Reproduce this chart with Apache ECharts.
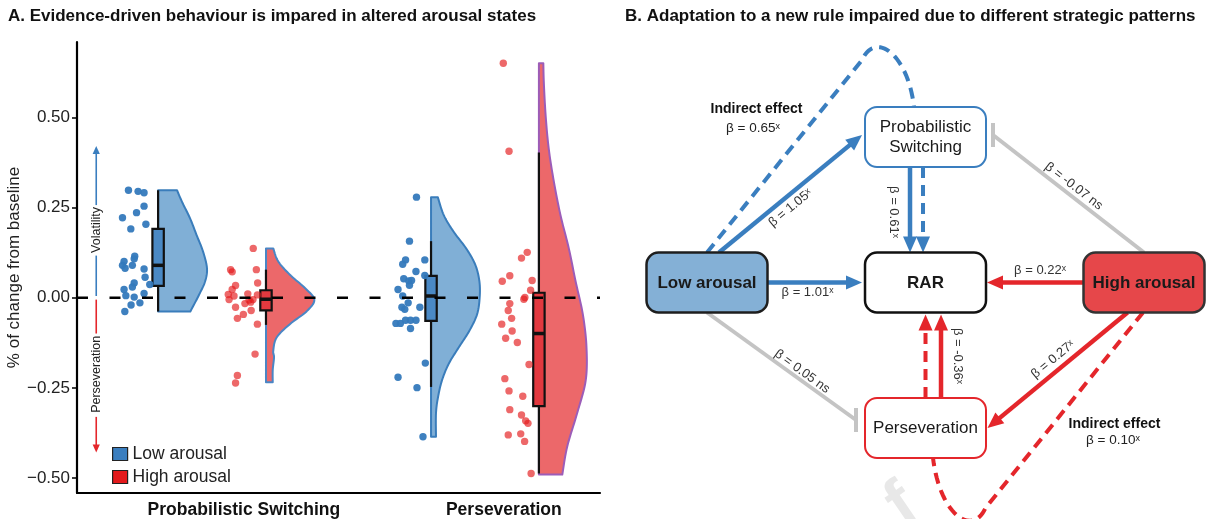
<!DOCTYPE html>
<html>
<head>
<meta charset="utf-8">
<script src="https://cdn.jsdelivr.net/npm/echarts@6.0.0/dist/echarts.min.js"></script>
<style>
html,body{margin:0;padding:0;background:#ffffff;}
#chart{width:1207px;height:519px;}
</style>
</head>
<body>
<div id="chart"></div>
<script>
// ================= DATA =================
const categories = ['Probabilistic Switching', 'Perseveration'];
const arousalGroups = ['Low arousal', 'High arousal'];
const yTickValues = [-0.5, -0.25, 0, 0.25, 0.5];

// jittered observations (value, horizontal jitter in category units)
const lowPSValues = [0.298,0.295,0.291,0.254,0.236,0.222,0.204,0.191,0.115,0.108,0.101,0.090,0.090,0.082,0.080,0.057,0.041,0.037,0.030,0.023,0.012,0.006,0.002,-0.014,-0.020,-0.038];
const lowPSJitter = [-0.114,-0.077,-0.054,-0.054,-0.083,-0.137,-0.047,-0.105,-0.090,-0.092,-0.131,-0.137,-0.099,-0.127,-0.054,-0.050,-0.092,-0.032,-0.099,-0.131,-0.054,-0.124,-0.092,-0.070,-0.104,-0.128];
const highPSValues = [0.137,0.078,0.072,0.078,0.041,0.034,0.023,0.011,0.009,0.005,0.008,-0.005,-0.006,-0.005,-0.012,-0.016,-0.026,-0.035,-0.046,-0.057,-0.073,-0.156,-0.215,-0.236];
const highPSJitter = [-0.049,-0.136,-0.130,-0.037,-0.032,-0.117,-0.130,-0.070,-0.145,-0.123,-0.033,-0.142,-0.065,-0.050,-0.059,-0.081,-0.117,-0.057,-0.087,-0.110,-0.033,-0.042,-0.110,-0.117];
const lowPersValues = [0.279,0.157,0.105,0.093,0.105,0.073,0.062,0.053,0.047,0.048,0.035,0.023,0.005,-0.014,-0.026,-0.032,-0.026,-0.071,-0.071,-0.062,-0.062,-0.062,-0.085,-0.181,-0.220,-0.249,-0.385];
const lowPersJitter = [-0.056,-0.083,-0.098,-0.109,-0.024,-0.058,-0.024,-0.105,-0.086,-0.075,-0.083,-0.127,-0.109,-0.088,-0.112,-0.101,-0.043,-0.135,-0.118,-0.098,-0.079,-0.058,-0.079,-0.022,-0.127,-0.054,-0.031];
const highPersValues = [0.650,0.406,0.126,0.110,0.061,0.046,0.048,0.021,-0.004,0.001,-0.016,-0.035,-0.057,-0.073,-0.092,-0.112,-0.124,-0.185,-0.224,-0.258,-0.273,-0.310,-0.325,-0.341,-0.348,-0.380,-0.377,-0.398,-0.487];
const highPersJitter = [-0.137,-0.115,-0.045,-0.067,-0.112,-0.141,-0.026,-0.032,-0.058,-0.054,-0.112,-0.118,-0.105,-0.143,-0.103,-0.128,-0.083,-0.038,-0.131,-0.115,-0.062,-0.112,-0.067,-0.051,-0.042,-0.118,-0.070,-0.055,-0.030];

// box statistics [lower whisker, Q1, median, Q3, upper whisker]
const boxLowPS = [-0.038, 0.033, 0.090, 0.191, 0.298];
const boxHighPS = [-0.075, -0.035, -0.004, 0.021, 0.078];
const boxLowPers = [-0.247, -0.064, 0.005, 0.061, 0.157];
const boxHighPers = [-0.487, -0.300, -0.099, 0.014, 0.403];

// half-violin density profiles (value, half width in category units)
const violinLowPSValues = [0.298,0.266,0.220,0.174,0.128,0.082,0.046,0.009,-0.038];
const violinLowPSWidth = [0.073,0.092,0.123,0.148,0.173,0.188,0.181,0.158,0.124];
const violinHighPSValues = [0.137,0.101,0.064,0.027,-0.005,-0.037,-0.073,-0.110,-0.147,-0.165,-0.200,-0.234];
const violinHighPSWidth = [0.028,0.047,0.092,0.150,0.186,0.157,0.092,0.041,0.028,0.031,0.026,0.026];
const violinLowPersValues = [0.279,0.229,0.183,0.137,0.092,0.046,0.000,-0.046,-0.092,-0.137,-0.183,-0.229,-0.275,-0.320,-0.385];
const violinLowPersWidth = [0.026,0.049,0.087,0.135,0.170,0.186,0.187,0.177,0.147,0.107,0.068,0.042,0.027,0.019,0.019];
const violinHighPersValues = [0.650,0.595,0.504,0.412,0.320,0.229,0.137,0.046,-0.046,-0.137,-0.229,-0.320,-0.412,-0.490];
const violinHighPersWidth = [0.017,0.019,0.026,0.038,0.058,0.083,0.115,0.141,0.169,0.183,0.180,0.147,0.109,0.090];

// path model (panel B)
const nodeNames = ['Probabilistic Switching', 'Low arousal', 'RAR', 'High arousal', 'Perseveration'];
const nodeLabels = ['Probabilistic\nSwitching', 'Low arousal', 'RAR', 'High arousal', 'Perseveration'];
const pathFrom = ['Low arousal','Low arousal','Probabilistic Switching','High arousal','Low arousal','High arousal','Perseveration','High arousal'];
const pathTo = ['Probabilistic Switching','RAR','RAR','Probabilistic Switching','Perseveration','RAR','RAR','Perseveration'];
const pathBeta = ['1.05','1.01','0.61','-0.07','0.05','0.22','-0.36','0.27'];
const pathSig = ['*','*','*','ns','ns','*','*','*'];
const indirectFrom = ['Low arousal', 'High arousal'];
const indirectVia = ['Probabilistic Switching', 'Perseveration'];
const indirectBeta = ['0.65', '0.10'];

// ================= LAYOUT / STYLE =================
const FONT = "'Liberation Sans', Arial, Helvetica, sans-serif";
const BLUE = '#3A7EBF', RED = '#E4262B', GREY = '#C4C4C4';
const groupPos = [0.67, 1.085, 1.72, 2.135];           // x slot of each raincloud
const xMinA = 0.358, xMaxA = 2.37;
const groupPts = [[lowPSValues, lowPSJitter],[highPSValues, highPSJitter],[lowPersValues, lowPersJitter],[highPersValues, highPersJitter]];
const groupBox = [boxLowPS, boxHighPS, boxLowPers, boxHighPers];
const groupViolin = [[violinLowPSValues, violinLowPSWidth],[violinHighPSValues, violinHighPSWidth],[violinLowPersValues, violinLowPersWidth],[violinHighPersValues, violinHighPersWidth]];
const violinFill = ['#80AFD6', '#EC686A', '#80AFD6', '#EC686A'];
const violinStroke = ['#3A7DBB', '#4A86C5', '#3A7DBB', '#9C5DB8'];
const boxFill = ['#4A89C5', '#E2393F', '#4A89C5', '#E2393F'];

const annot = {x: 0.432,
  up: {tip: 0.421, seg: [[0.005, 0.117], [0.257, 0.405]], text: 0.188, label: 'Volatility', color: BLUE},
  down: {tip: -0.429, seg: [[-0.005, -0.099], [-0.330, -0.413]], text: -0.212, label: 'Perseveration', color: RED}};

const nodeGrid = {'Probabilistic Switching':[1,0], 'Low arousal':[0,1], 'RAR':[1,1], 'High arousal':[2,1], 'Perseveration':[1,2]};
const nodeStyle = {
  'Probabilistic Switching': {fill:'#ffffff', stroke:BLUE, lw:2, bold:false},
  'Low arousal': {fill:'#84B0D6', stroke:'#1e1e1e', lw:2.5, bold:true},
  'RAR': {fill:'#ffffff', stroke:'#111111', lw:2.5, bold:true},
  'High arousal': {fill:'#E6474A', stroke:'#333333', lw:2.5, bold:true},
  'Perseveration': {fill:'#ffffff', stroke:RED, lw:2, bold:false}
};
const nodeColor = {'Low arousal':BLUE, 'Probabilistic Switching':BLUE, 'High arousal':RED, 'Perseveration':RED};
// anchor offsets (px) from node centres
const pathLayout = [
  {s:[12,-30], e:[-63.5,-2], label:[83.5,-74.5], rot:39.5},
  {s:[61,0], e:[-63.5,0], label:[100.5,10], rot:0},
  {s:[-15.5,30], e:[-15.5,-30], label:[-31.5,75], rot:-90},
  {s:[0,-30], e:[67.5,-2], label:[-70.3,-96.3], rot:-37.6},
  {s:[0,30], e:[-69.5,-8], label:[95,89], rot:-36},
  {s:[-61,0], e:[61.5,0], label:[-104,-12], rot:0},
  {s:[15.5,-30], e:[15.5,32], label:[32.5,-72], rot:-90},
  {s:[-16.5,30], e:[62,0], label:[-91,77], rot:39.4}
];
const indirectLayout = [
  {s:[0,-30], a:[-63.5,-77], c1:[-49.5,-107], c2:[-17.5,-82], e:[-11.5,-30], down:[-2.5,30], downEnd:[-2.5,-30], title:[-169,-28], beta:[-172.5,-9]},
  {s:[-1,30], a:[60,80], c1:[46,110], c2:[14,85], e:[7.5,30], down:[0,-30], downEnd:[0,32], title:[189,-4], beta:[187.5,12]}
];

// ================= HELPERS =================
function spline(pts, steps) {
  const out = [pts[0]];
  for (let i = 0; i < pts.length - 1; i++) {
    const p0 = pts[Math.max(i-1,0)], p1 = pts[i], p2 = pts[i+1], p3 = pts[Math.min(i+2, pts.length-1)];
    for (let s = 1; s <= steps; s++) {
      const t = s/steps, t2 = t*t, t3 = t2*t;
      const f = (a,b,c,d) => 0.5*((2*b) + (-a+c)*t + (2*a-5*b+4*c-d)*t2 + (-a+3*b-3*c+d)*t3);
      out.push([f(p0[0],p1[0],p2[0],p3[0]), f(p0[1],p1[1],p2[1],p3[1])]);
    }
  }
  return out;
}
function arrowHead(tip, dir, L, W, color) {
  const bx = tip[0]-dir[0]*L, by = tip[1]-dir[1]*L;
  return {type:'polygon', shape:{points:[[tip[0],tip[1]],[bx-dir[1]*W, by+dir[0]*W],[bx+dir[1]*W, by-dir[0]*W]]}, style:{fill:color}};
}
function betaText(b, sig) { return sig === 'ns' ? 'β = ' + b + ' ns' : 'β = ' + b + 'ˣ'; }
function fmtTick(v) { const s = Math.abs(v).toFixed(2); return v < 0 ? '\u2212' + s : s; }
function bez(p0, p1, p2, p3, t) {
  const u = 1-t;
  return [u*u*u*p0[0]+3*u*u*t*p1[0]+3*u*t*t*p2[0]+t*t*t*p3[0], u*u*u*p0[1]+3*u*u*t*p1[1]+3*u*t*t*p2[1]+t*t*t*p3[1]];
}
const off = (c, o) => [c[0]+o[0], c[1]+o[1]];

// ================= SERIES =================
const series = [];

// half violins
series.push({
  type:'custom', name:'violins', xAxisIndex:0, yAxisIndex:0, z:2, silent:true,
  data: groupPos.map((g,i)=>[i,0]),
  renderItem(params, api) {
    const i = params.dataIndex, gx = groupPos[i];
    const [vals, wid] = groupViolin[i];
    const edge = vals.map((v,k)=>api.coord([gx + wid[k], v]));
    const pts = [api.coord([gx, vals[0]])].concat(spline(edge, 10)).concat([api.coord([gx, vals[vals.length-1]])]);
    return {type:'polygon', shape:{points:pts}, style:{fill:violinFill[i], stroke:violinStroke[i], lineWidth:2, lineJoin:'round'}};
  }
});

// boxplots
series.push({
  type:'custom', name:'boxes', xAxisIndex:0, yAxisIndex:0, z:3, silent:true,
  data: groupPos.map((g,i)=>[i,0]),
  renderItem(params, api) {
    const i = params.dataIndex, gx = groupPos[i];
    const [mn,q1,md,q3,mx] = groupBox[i];
    const x = api.coord([gx, 0])[0], hw = 5.7;
    const yMn = api.coord([gx,mn])[1], yQ1 = api.coord([gx,q1])[1], yMd = api.coord([gx,md])[1], yQ3 = api.coord([gx,q3])[1], yMx = api.coord([gx,mx])[1];
    return {type:'group', children:[
      {type:'line', shape:{x1:x,y1:yMx,x2:x,y2:yMn}, style:{stroke:'#111',lineWidth:2.2}},
      {type:'rect', shape:{x:x-hw, y:yQ3, width:2*hw, height:yQ1-yQ3}, style:{fill:boxFill[i], stroke:'#111', lineWidth:2.2}},
      {type:'line', shape:{x1:x-hw,y1:yMd,x2:x+hw,y2:yMd}, style:{stroke:'#111',lineWidth:3.5}}
    ]};
  }
});

// jittered points
[[0,2,'Low arousal','#3479BC',0.95],[1,3,'High arousal','#E31A1C',0.66]].forEach(([a,b,name,color,op])=>{
  const data = [];
  [a,b].forEach(g=>{ const [vals,jit] = groupPts[g]; vals.forEach((v,k)=>data.push([groupPos[g]+jit[k], v])); });
  series.push({type:'scatter', name, xAxisIndex:0, yAxisIndex:0, z:4, symbol:'circle', symbolSize:7.4, data,
    itemStyle:{color, opacity:op}, silent:true});
});

// zero reference line
series.push({
  type:'custom', name:'zero', xAxisIndex:0, yAxisIndex:0, z:6, silent:true, data:[[1,0]],
  renderItem(params, api) {
    const p1 = api.coord([xMinA,0]), p2 = api.coord([xMaxA,0]);
    return {type:'line', shape:{x1:p1[0],y1:p1[1],x2:p2[0],y2:p2[1]}, style:{stroke:'#000', lineWidth:2.4, lineDash:[11,21.5], lineDashOffset:0}};
  }
});

// direction annotations (Volatility / Perseveration)
series.push({
  type:'custom', name:'annot', xAxisIndex:0, yAxisIndex:0, z:6, silent:true, data:[[1,0]],
  renderItem(params, api) {
    const ch = [];
    [annot.up, annot.down].forEach(a=>{
      a.seg.forEach(([v1,v2])=>{
        const p1 = api.coord([annot.x,v1]), p2 = api.coord([annot.x,v2]);
        ch.push({type:'line', shape:{x1:p1[0],y1:p1[1],x2:p2[0],y2:p2[1]}, style:{stroke:a.color,lineWidth:1.6}});
      });
      const tip = api.coord([annot.x, a.tip]);
      ch.push(arrowHead(tip, [0, a.tip>0?-1:1], 8, 3.6, a.color));
      const tp = api.coord([annot.x, a.text]);
      ch.push({type:'text', x:tp[0], y:tp[1], rotation:Math.PI/2, style:{text:a.label, fontSize:12.5, fontFamily:FONT, fill:'#222', align:'center', verticalAlign:'middle'}});
    });
    return {type:'group', children:ch};
  }
});

// ----- panel B: direct paths -----
series.push({
  type:'custom', name:'paths', xAxisIndex:1, yAxisIndex:1, z:2, silent:true,
  data: pathFrom.map((f,i)=>[i,0]),
  renderItem(params, api) {
    const i = params.dataIndex, lay = pathLayout[i];
    const from = api.coord(nodeGrid[pathFrom[i]]), to = api.coord(nodeGrid[pathTo[i]]);
    const s = off(from, lay.s), e = off(to, lay.e);
    const ns = pathSig[i] === 'ns';
    const color = ns ? GREY : nodeColor[pathFrom[i]];
    const len = Math.hypot(e[0]-s[0], e[1]-s[1]);
    const dir = [(e[0]-s[0])/len, (e[1]-s[1])/len];
    const ch = [];
    if (ns) {
      ch.push({type:'line', shape:{x1:s[0],y1:s[1],x2:e[0],y2:e[1]}, style:{stroke:color,lineWidth:4}});
      ch.push({type:'line', shape:{x1:e[0],y1:e[1]-12,x2:e[0],y2:e[1]+12}, style:{stroke:color,lineWidth:4}});
    } else {
      const stop = [e[0]-dir[0]*12, e[1]-dir[1]*12];
      ch.push({type:'line', shape:{x1:s[0],y1:s[1],x2:stop[0],y2:stop[1]}, style:{stroke:color,lineWidth:4.5}});
      ch.push(arrowHead(e, dir, 16, 7, color));
    }
    const lp = off(from, lay.label);
    ch.push({type:'text', x:lp[0], y:lp[1], rotation:lay.rot*Math.PI/180,
      style:{text:betaText(pathBeta[i], pathSig[i]), fontSize:13, fontFamily:FONT, fill:'#333', align:'center', verticalAlign:'middle'}});
    return {type:'group', children:ch};
  }
});

// ----- panel B: indirect effects -----
series.push({
  type:'custom', name:'indirect', xAxisIndex:1, yAxisIndex:1, z:2, silent:true,
  data: indirectFrom.map((f,i)=>[i,0]),
  renderItem(params, api) {
    const i = params.dataIndex, lay = indirectLayout[i];
    const from = api.coord(nodeGrid[indirectFrom[i]]), via = api.coord(nodeGrid[indirectVia[i]]), out = api.coord(nodeGrid['RAR']);
    const color = nodeColor[indirectFrom[i]];
    const s = off(from, lay.s), A = off(via, lay.a), C1 = off(via, lay.c1), C2 = off(via, lay.c2), E = off(via, lay.e);
    const pts = [s, A];
    for (let k = 1; k <= 30; k++) pts.push(bez(A, C1, C2, E, k/30));
    const d1 = off(via, lay.down), d2 = off(out, lay.downEnd);
    const dir = [0, d2[1] > d1[1] ? 1 : -1];
    const stop = [d2[0], d2[1]-dir[1]*12];
    const tp = off(via, lay.title), bp = off(via, lay.beta);
    return {type:'group', children:[
      {type:'polyline', shape:{points:pts}, style:{stroke:color, lineWidth:4, lineDash:[11,7], fill:'none'}},
      {type:'line', shape:{x1:d1[0],y1:d1[1],x2:stop[0],y2:stop[1]}, style:{stroke:color,lineWidth:4,lineDash:[11,7]}},
      arrowHead(d2, dir, 16, 7, color),
      {type:'text', x:tp[0], y:tp[1], style:{text:'Indirect effect', fontSize:14, fontWeight:'bold', fontFamily:FONT, fill:'#111', align:'center', verticalAlign:'middle'}},
      {type:'text', x:bp[0], y:bp[1], style:{text:betaText(indirectBeta[i], '*'), fontSize:13.5, fontFamily:FONT, fill:'#222', align:'center', verticalAlign:'middle'}}
    ]};
  }
});

// ----- panel B: nodes -----
series.push({
  type:'custom', name:'nodes', xAxisIndex:1, yAxisIndex:1, z:3, silent:true,
  data: nodeNames.map((n,i)=>[i,0]),
  renderItem(params, api) {
    const i = params.dataIndex, name = nodeNames[i];
    const c = api.coord(nodeGrid[name]), st = nodeStyle[name];
    return {type:'group', children:[
      {type:'rect', shape:{x:c[0]-60.5, y:c[1]-30, width:121, height:60, r:12}, style:{fill:st.fill, stroke:st.stroke, lineWidth:st.lw}},
      {type:'text', x:c[0], y:c[1]+0.5, style:{text:nodeLabels[i], fontSize:17, lineHeight:20, fontWeight:st.bold?'bold':'normal', fontFamily:FONT, fill:'#1a1a1a', align:'center', verticalAlign:'middle'}}
    ]};
  }
});

const option = {
  animation: false,
  backgroundColor: '#ffffff',
  textStyle: {fontFamily: FONT},
  title: [
    {text:'A. Evidence-driven behaviour is impared in altered arousal states', left:8, top:8, padding:0, textStyle:{fontFamily:FONT, fontSize:17, fontWeight:'bold', color:'#111'}},
    {text:'B. Adaptation to a new rule impaired due to different strategic patterns', left:625, top:8, padding:0, textStyle:{fontFamily:FONT, fontSize:17, fontWeight:'bold', color:'#111'}}
  ],
  graphic: [
    {type:'text', x:902, y:506, rotation:0.6, z:0, silent:true,
      style:{text:'f', font:"bold 66px 'Liberation Sans', Arial, sans-serif", fill:'#E8E8E8', align:'center', verticalAlign:'middle'}}
  ],
  legend: {
    orient:'vertical', left:112, top:445, padding:0, itemGap:5, itemWidth:15, itemHeight:13,
    textStyle:{fontFamily:FONT, fontSize:17.5, color:'#222'},
    selectedMode:false,
    data:[
      {name:arousalGroups[0], icon:'rect', itemStyle:{color:'#3A7EBF', borderColor:'#222', borderWidth:1.2, opacity:1}},
      {name:arousalGroups[1], icon:'rect', itemStyle:{color:'#E31A1C', borderColor:'#222', borderWidth:1.2, opacity:1}}
    ]
  },
  grid: [
    {left:77, top:42, width:523, height:455},
    {left:619.6, top:64.25, width:585.6, height:436.5}
  ],
  xAxis: [
    {gridIndex:0, type:'value', min:xMinA, max:xMaxA,
      axisLine:{show:true, onZero:false, lineStyle:{color:'#000', width:2.2}}, axisTick:{show:false}, splitLine:{show:false},
      axisLabel:{customValues:[1,2], formatter:(v)=>categories[Math.round(v)-1], fontFamily:FONT, fontSize:17.5, fontWeight:'bold', color:'#111', margin:8}},
    {gridIndex:1, type:'value', min:-0.4, max:2.28, show:false}
  ],
  yAxis: [
    {gridIndex:0, type:'value', min:-0.541, max:0.709,
      name:'% of change from baseline', nameLocation:'middle', nameGap:46, nameTextStyle:{fontFamily:FONT, fontSize:17, color:'#222'},
      axisLine:{show:true, onZero:false, lineStyle:{color:'#000', width:2.2}},
      axisTick:{show:true, customValues:yTickValues, length:5, lineStyle:{color:'#000', width:1.5}},
      splitLine:{show:false},
      axisLabel:{customValues:yTickValues, formatter:fmtTick, fontFamily:FONT, fontSize:17, color:'#222', margin:7}},
    {gridIndex:1, type:'value', inverse:true, min:-0.5, max:2.5, show:false}
  ],
  series
};

const chart = echarts.init(document.getElementById('chart'), null, {renderer:'canvas'});
chart.setOption(option);
</script>
</body>
</html>
